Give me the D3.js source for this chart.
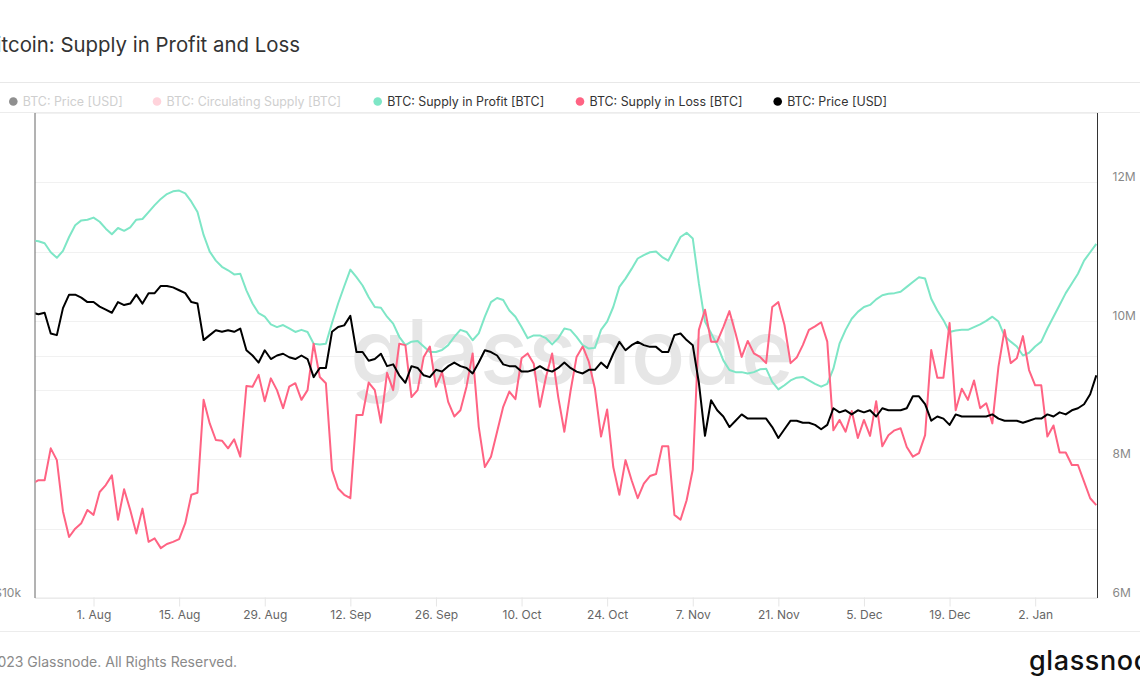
<!DOCTYPE html>
<html>
<head>
<meta charset="utf-8">
<script src="https://cdn.jsdelivr.net/npm/d3@7"></script>
<style>
  html, body { margin: 0; padding: 0; background: #fff; }
  svg { display: block; font-family: Inter, "Noto Sans", sans-serif; }
</style>
</head>
<body>
<svg id="chart" width="1140" height="694"></svg>
<script>
// ---------------- data ----------------
const startDate = Date.UTC(2022, 6, 22);
const endDate = Date.UTC(2023, 0, 12);

// BTC price [USD], daily
const price = [22600,22500,22600,21300,21200,22900,23800,23800,23600,23300,
 23300,23000,22800,22600,23300,23100,23200,23800,23200,23900,
 23900,24400,24400,24300,24100,23900,23300,23200,20900,21200,
 21500,21400,21500,21400,21600,20300,20000,19600,20300,19800,
 20000,20100,19900,19800,20000,19800,18800,19300,19300,21400,
 21700,21800,22400,20200,20200,19700,19800,20100,19400,19500,
 18900,18500,19400,19300,18900,18800,19200,19100,19400,19600,
 19400,19300,19000,19600,20300,20200,20000,19500,19400,19400,
 19100,19100,19200,19400,19200,19100,19300,19600,19300,19100,
 19000,19200,19200,19600,19300,20100,20800,20300,20600,20800,
 20600,20500,20500,20200,20200,21200,21300,20900,20600,18500,
 15900,17600,17100,16800,16300,16600,16900,16700,16700,16700,
 16700,16300,15800,16200,16600,16600,16500,16500,16400,16200,
 16400,17200,17000,17100,16900,17100,17000,17100,16800,17200,
 17100,17100,17100,17200,17800,17800,17400,16600,16800,16700,
 16400,16900,16800,16800,16800,16800,16800,16900,16700,16600,
 16600,16600,16500,16600,16700,16700,16900,16800,17000,16900,
 17100,17200,17400,17900,18900];

// Supply in Profit [million BTC], daily
const supplyProfit = [11.16,11.15,11.12,10.99,10.91,11.01,11.21,11.38,11.45,11.46,
 11.49,11.43,11.33,11.25,11.34,11.30,11.35,11.46,11.47,11.57,
 11.67,11.76,11.83,11.87,11.88,11.84,11.72,11.57,11.24,11.00,
 10.87,10.78,10.73,10.67,10.68,10.44,10.25,10.11,10.06,9.95,
 9.91,9.94,9.89,9.84,9.87,9.84,9.67,9.66,9.67,9.97,
 10.25,10.50,10.74,10.63,10.51,10.34,10.20,10.19,10.06,9.96,
 9.77,9.65,9.70,9.71,9.63,9.55,9.55,9.58,9.65,9.77,
 9.87,9.84,9.72,9.82,10.06,10.27,10.33,10.30,10.15,10.06,
 9.91,9.75,9.79,9.79,9.75,9.66,9.75,9.89,9.87,9.77,
 9.65,9.60,9.61,9.87,9.99,10.20,10.49,10.61,10.75,10.90,
 10.95,10.99,11.00,10.92,10.87,11.04,11.21,11.27,11.19,10.54,
 9.99,9.82,9.65,9.43,9.29,9.26,9.26,9.24,9.26,9.30,
 9.31,9.12,9.01,9.07,9.14,9.18,9.19,9.14,9.09,9.05,
 9.09,9.31,9.67,9.87,10.03,10.13,10.20,10.23,10.31,10.37,
 10.39,10.40,10.42,10.49,10.56,10.63,10.61,10.32,10.15,10.01,
 9.84,9.86,9.87,9.87,9.91,9.95,10.00,10.06,9.99,9.78,
 9.70,9.63,9.50,9.54,9.63,9.70,9.89,10.06,10.23,10.40,
 10.54,10.68,10.87,10.99,11.11];

// Supply in Loss [million BTC], daily
const supplyLoss = [7.65,7.70,7.70,8.16,7.99,7.25,6.88,7.00,7.08,7.27,
 7.20,7.53,7.63,7.77,7.13,7.57,7.27,6.93,7.29,6.81,
 6.86,6.72,6.78,6.81,6.85,7.08,7.49,7.52,8.86,8.52,
 8.28,8.27,8.16,8.29,8.04,9.06,9.05,9.22,8.84,9.17,
 9.00,8.74,9.05,9.10,8.86,9.00,9.67,9.19,9.10,7.85,
 7.58,7.49,7.44,8.64,8.64,9.11,9.00,8.53,9.25,9.00,
 9.67,9.65,8.90,9.00,9.48,9.63,9.05,9.26,8.83,8.62,
 8.71,9.05,9.53,8.47,7.89,8.04,8.40,8.76,8.98,8.87,
 9.46,9.53,9.38,8.76,9.19,9.53,8.90,8.40,8.98,9.48,
 9.63,9.41,9.02,8.33,8.72,7.89,7.49,7.99,7.70,7.44,
 7.65,7.76,7.79,8.19,8.19,7.20,7.13,7.41,7.85,9.87,
 10.16,9.70,9.70,9.91,10.14,9.82,9.48,9.71,9.53,9.48,
 9.39,10.20,10.27,9.94,9.39,9.47,9.65,9.87,9.92,9.98,
 9.70,8.42,8.57,8.40,8.70,8.31,8.57,8.34,8.84,8.19,
 8.35,8.42,8.45,8.18,8.04,8.09,8.35,9.58,9.18,9.18,
 9.97,8.71,9.02,8.86,9.14,8.74,8.81,8.52,9.34,9.87,
 9.39,9.46,9.78,9.29,9.07,9.07,8.33,8.49,8.10,8.10,
 7.92,7.92,7.68,7.44,7.34];

const xTickDates = ["2022-08-01","2022-08-15","2022-08-29","2022-09-12","2022-09-26","2022-10-10",
  "2022-10-24","2022-11-07","2022-11-21","2022-12-05","2022-12-19","2023-01-02"];
const xTickLabels = ["1. Aug","15. Aug","29. Aug","12. Sep","26. Sep","10. Oct",
  "24. Oct","7. Nov","21. Nov","5. Dec","19. Dec","2. Jan"];
const rightTicks = [6, 8, 10, 12];
const rightTickLabels = ["6M", "8M", "10M", "12M"];
const rightGrid = [7, 9, 11, 13];
const leftTicks = [10000];
const leftTickLabels = ["$10k"];
const leftGrid = [20000];

const legendItems = [
  { label: "BTC: Price [USD]", color: "#8f8f8f", active: false },
  { label: "BTC: Circulating Supply [BTC]", color: "#ffd3db", active: false },
  { label: "BTC: Supply in Profit [BTC]", color: "#7ee6c6", active: true },
  { label: "BTC: Supply in Loss [BTC]", color: "#ff6383", active: true },
  { label: "BTC: Price [USD]", color: "#000000", active: true }
];

// ---------------- layout ----------------
const svg = d3.select("#chart");
const W = 1140, H = 694;
const plot = { left: 35, right: 1097.5, top: 113, bottom: 598 };

const dates = d3.utcDay.range(new Date(startDate), new Date(endDate + 1));
const x = d3.scaleUtc().domain([new Date(startDate), new Date(endDate)]).range([32.4, 1096.3]);
const yR = d3.scaleLinear().domain([6, 13]).range([plot.bottom, plot.top]);
const yL = d3.scaleLog().domain([10000, 40000]).range([plot.bottom, plot.top]);

svg.append("rect").attr("width", W).attr("height", H).attr("fill", "#fff");

// Title (left part clipped by the frame)
svg.append("text")
  .attr("x", 300).attr("y", 52)
  .attr("text-anchor", "end")
  .attr("font-size", 20.4).attr("fill", "#333")
  .text("Bitcoin: Supply in Profit and Loss");

// separators
svg.append("line").attr("x1", 0).attr("x2", W).attr("y1", 82.5).attr("y2", 82.5)
  .attr("stroke", "#e8e8e8");
svg.append("line").attr("x1", 0).attr("x2", W).attr("y1", 112.5).attr("y2", 112.5)
  .attr("stroke", "#ececec");

// Legend
const legendX = [13.3, 157, 377.7, 580, 777.7];
const lg = svg.append("g");
legendItems.forEach((it, i) => {
  const g = lg.append("g").attr("transform", `translate(${legendX[i]},101.5)`);
  g.append("circle").attr("r", 4.3).attr("fill", it.color);
  g.append("text").attr("x", 9.5).attr("y", 4.4)
    .attr("font-size", 12.4).attr("fill", it.active ? "#333" : "#cfcfcf")
    .text(it.label);
});

// Gridlines
const grid = svg.append("g");
rightTicks.concat(rightGrid).forEach(v => {
  grid.append("line").attr("x1", plot.left).attr("x2", plot.right)
    .attr("y1", Math.round(yR(v)) + 0.5).attr("y2", Math.round(yR(v)) + 0.5)
    .attr("stroke", "#f1f1f1");
});
leftGrid.forEach(v => {
  grid.append("line").attr("x1", plot.left).attr("x2", plot.right)
    .attr("y1", Math.round(yL(v)) + 0.5).attr("y2", Math.round(yL(v)) + 0.5)
    .attr("stroke", "#f1f1f1");
});

// Watermark
svg.append("text")
  .attr("x", 572).attr("y", 384)
  .attr("text-anchor", "middle")
  .attr("font-size", 90).attr("font-weight", 500)
  .attr("fill", "#e6e6e6")
  .text("glassnode");

// X axis
const xAxis = d3.axisBottom(x)
  .tickValues(xTickDates.map(s => new Date(s + "T00:00:00Z")))
  .tickFormat((d, i) => xTickLabels[i])
  .tickSize(9).tickPadding(4);
const gx = svg.append("g").attr("transform", `translate(0,${plot.bottom - 0.5})`).call(xAxis);
gx.select(".domain").attr("d", `M${plot.left},0.5H${plot.right}`).attr("stroke", "#e6e6e6");
gx.selectAll(".tick line").attr("stroke", "#e6e6e6");
gx.selectAll(".tick text").attr("font-size", 12).attr("fill", "#666")
  .attr("font-family", "Inter, 'Noto Sans', sans-serif");

// Right axis
const rAxis = d3.axisRight(yR).tickValues(rightTicks)
  .tickFormat((d, i) => rightTickLabels[i]).tickSize(0).tickPadding(15);
const gr = svg.append("g").attr("transform", `translate(${plot.right},0)`).call(rAxis);
gr.select(".domain").attr("d", `M0,${plot.top}V${plot.bottom}`).attr("stroke", "#333");
gr.selectAll(".tick text").attr("font-size", 12).attr("fill", "#888")
  .attr("dy", "-0.12em")
  .attr("font-family", "Inter, 'Noto Sans', sans-serif");

// Left axis
const lAxis = d3.axisLeft(yL).tickValues(leftTicks)
  .tickFormat((d, i) => leftTickLabels[i]).tickSize(0).tickPadding(14);
const gl = svg.append("g").attr("transform", `translate(${plot.left},0)`).call(lAxis);
gl.select(".domain").attr("d", `M0,${plot.top}V${plot.bottom}`).attr("stroke", "#666");
gl.selectAll(".tick text").attr("font-size", 12).attr("fill", "#888")
  .attr("dy", "-0.12em")
  .attr("font-family", "Inter, 'Noto Sans', sans-serif");

// Clip
svg.append("clipPath").attr("id", "clip").append("rect")
  .attr("x", plot.left + 0.5).attr("y", plot.top).attr("width", plot.right - plot.left - 1)
  .attr("height", plot.bottom - plot.top);
const lines = svg.append("g").attr("clip-path", "url(#clip)");

const lineR = d3.line().x((d, i) => x(dates[i])).y(d => yR(d));
const lineL = d3.line().x((d, i) => x(dates[i])).y(d => yL(d));

lines.append("path").datum(supplyProfit).attr("d", lineR)
  .attr("fill", "none").attr("stroke", "#7ee6c6").attr("stroke-width", 2).attr("stroke-linejoin", "round");
lines.append("path").datum(supplyLoss).attr("d", lineR)
  .attr("fill", "none").attr("stroke", "#ff6383").attr("stroke-width", 2).attr("stroke-linejoin", "round");
lines.append("path").datum(price).attr("d", lineL)
  .attr("fill", "none").attr("stroke", "#000").attr("stroke-width", 2).attr("stroke-linejoin", "round");

// Footer
svg.append("line").attr("x1", 0).attr("x2", W).attr("y1", 631.5).attr("y2", 631.5)
  .attr("stroke", "#ececec");
svg.append("text").attr("x", 237).attr("y", 667)
  .attr("text-anchor", "end").attr("font-size", 14).attr("fill", "#8a8a8a")
  .text("© 2023 Glassnode. All Rights Reserved.");
svg.append("text").attr("x", 1029).attr("y", 670)
  .attr("font-size", 27).attr("font-weight", 500).attr("fill", "#111")
  .attr("letter-spacing", 0.6)
  .text("glassnode");
</script>
</body>
</html>
